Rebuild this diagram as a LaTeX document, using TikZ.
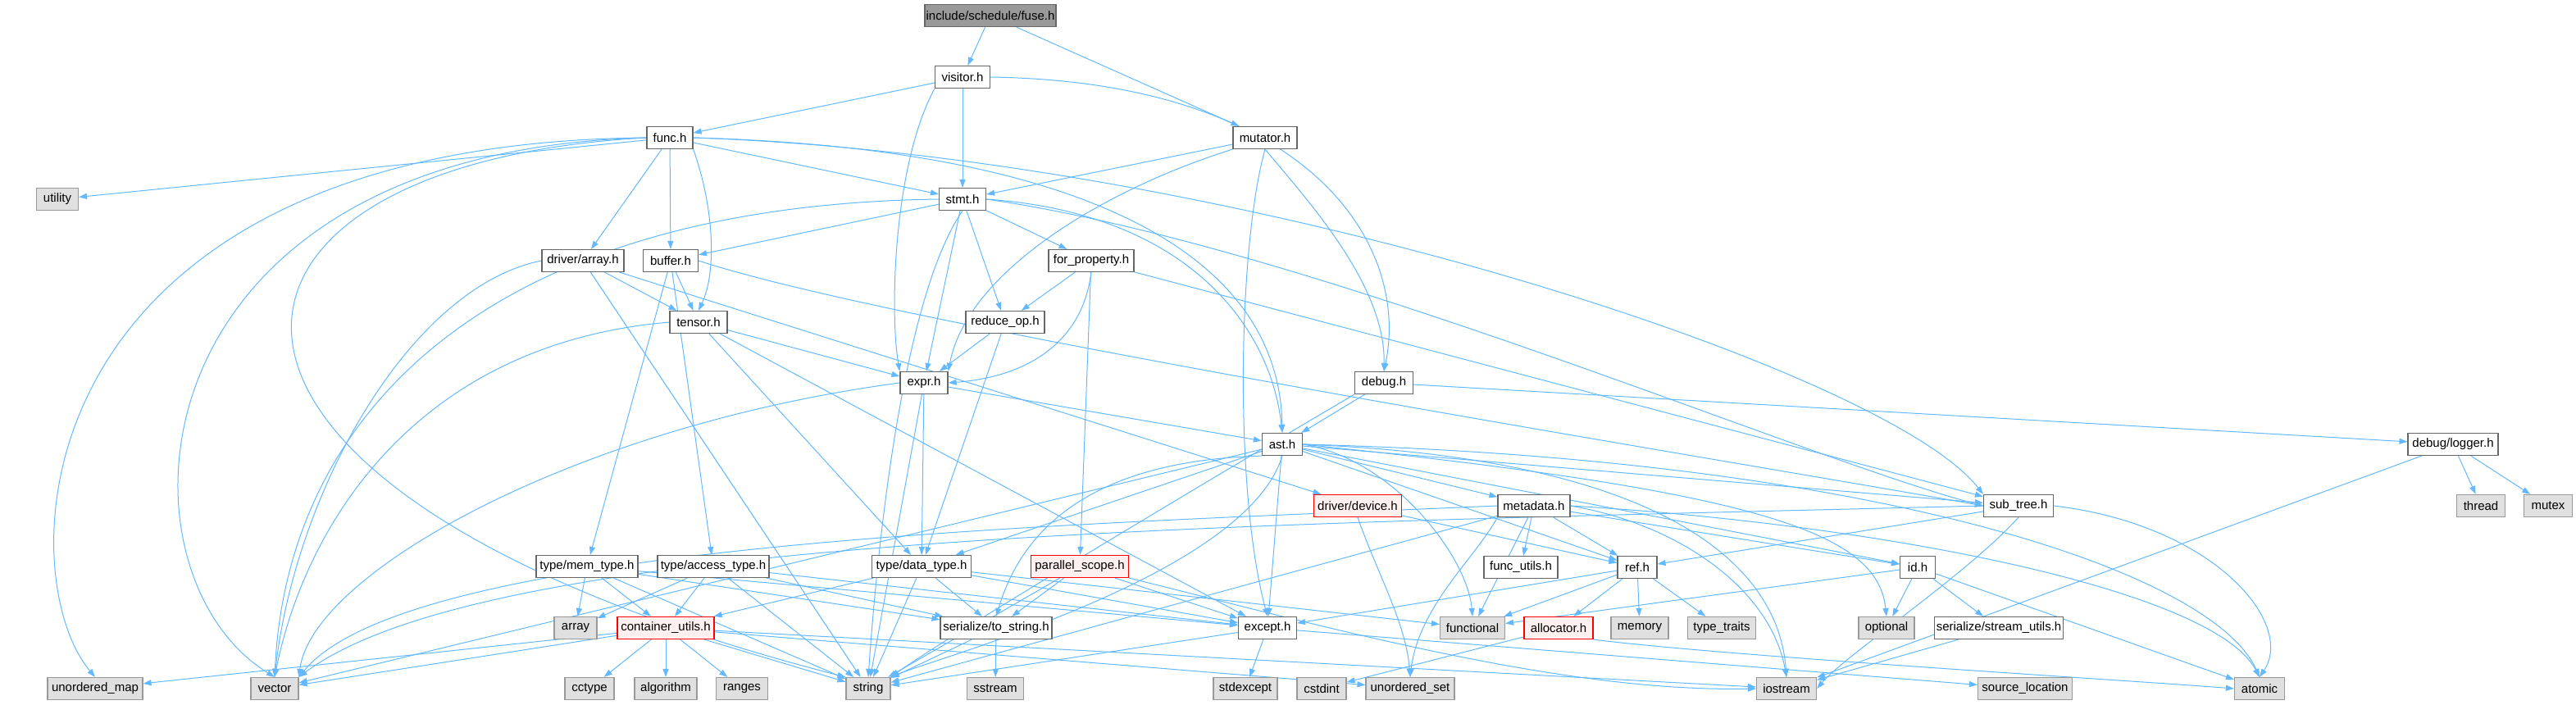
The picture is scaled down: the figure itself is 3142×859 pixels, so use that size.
\documentclass[tikz,border=0pt]{standalone}
\usepackage{fontspec}
\setmainfont{Liberation Sans}
\usepackage{tikz}
\usepackage{xcolor}
\usetikzlibrary{arrows.meta,backgrounds}

\definecolor{edgeblue}{HTML}{63B8FF}
\definecolor{boxgray}{HTML}{666666}
\definecolor{sysgray}{HTML}{999999}
\definecolor{sysfill}{HTML}{E0E0E0}
\definecolor{rootfill}{HTML}{999999}
\definecolor{badfill}{HTML}{FFF0F0}

\begin{document}
\begin{tikzpicture}[x=0.5pt, y=-0.5pt,
    >={Triangle[length=5pt,width=3.5pt]},
    hdr/.style={draw=boxgray, fill=white, minimum height=13.5pt, inner sep=0pt,
                line width=0.6pt, font=\fontsize{7.5}{8}\selectfont},
    sys/.style={hdr, draw=sysgray, fill=sysfill},
    root/.style={hdr, fill=rootfill},
    bad/.style={hdr, draw=red, fill=badfill},
    dep/.style={->, draw=edgeblue, line width=0.5pt}]
  \useasboundingbox (0,0) rectangle (3142,859);

  % --- headers of the project ------------------------------------------
  \node[root, minimum width=80pt]   (fuse)     at (1208,19)  {include/schedule/fuse.h};
  \node[hdr, minimum width=33.5pt]  (visitor)  at (1174,94)  {visitor.h};
  \node[hdr, minimum width=28pt]    (func)     at (817,168)  {func.h};
  \node[hdr, minimum width=39pt]    (mutator)  at (1543,168) {mutator.h};
  \node[hdr, minimum width=28.5pt]  (stmt)     at (1174,243) {stmt.h};
  \node[hdr, minimum width=50pt]    (darray)   at (711,318)  {driver/array.h};
  \node[hdr, minimum width=33.5pt]  (buffer)   at (818,318)  {buffer.h};
  \node[hdr, minimum width=52pt]    (forprop)  at (1331,318) {for\_property.h};
  \node[hdr, minimum width=35pt]    (tensor)   at (852,393)  {tensor.h};
  \node[hdr, minimum width=48pt]    (reduceop) at (1226,393) {reduce\_op.h};
  \node[hdr, minimum width=29pt]    (expr)     at (1127,467) {expr.h};
  \node[hdr, minimum width=35.5pt]  (debug)    at (1688,467) {debug.h};
  \node[hdr, minimum width=24.5pt]  (ast)      at (1564,542) {ast.h};
  \node[hdr, minimum width=55pt]    (logger)   at (2992,542) {debug/logger.h};
  \node[bad, minimum width=53.5pt]  (device)   at (1656,617) {driver/device.h};
  \node[hdr, minimum width=44pt]    (metadata) at (1871,617) {metadata.h};
  \node[hdr, minimum width=42.5pt]  (subtree)  at (2462,617) {sub\_tree.h};
  \node[hdr, minimum width=62pt]    (memtype)  at (716,691)  {type/mem\_type.h};
  \node[hdr, minimum width=68pt]    (acctype)  at (870,691)  {type/access\_type.h};
  \node[hdr, minimum width=60.5pt]  (datatype) at (1124,691) {type/data\_type.h};
  \node[bad, minimum width=59.5pt]  (parscope) at (1317,691) {parallel\_scope.h};
  \node[hdr, minimum width=45pt]    (funcutil) at (1855,692) {func\_utils.h};
  \node[hdr, minimum width=24pt]    (ref)      at (1997,692) {ref.h};
  \node[hdr, minimum width=21.5pt]  (id)       at (2339,692) {id.h};
  \node[bad, minimum width=59pt]    (contutil) at (812,766)  {container\_utils.h};
  \node[hdr, minimum width=68pt]    (tostring) at (1215,766) {serialize/to\_string.h};
  \node[hdr, minimum width=35.5pt]  (except)   at (1546,766) {except.h};
  \node[bad, minimum width=42pt]    (alloc)    at (1901,766) {allocator.h};
  \node[hdr, minimum width=78.5pt]  (strmutil) at (2438,766) {serialize/stream\_utils.h};

  % --- system headers --------------------------------------------------
  \node[sys, minimum width=25.5pt]  (utility)  at (70,243)   {utility};
  \node[sys, minimum width=29.5pt]  (thread)   at (3026,617) {thread};
  \node[sys, minimum width=29.5pt]  (mutex)    at (3108,617) {mutex};
  \node[sys, minimum width=26pt]    (array)    at (702,766)  {array};
  \node[sys, minimum width=39.5pt]  (function) at (1796,766) {functional};
  \node[sys, minimum width=35pt]    (memory)   at (2000,766) {memory};
  \node[sys, minimum width=41.5pt]  (typetrt)  at (2100,766) {type\_traits};
  \node[sys, minimum width=34pt]    (optional) at (2301,766) {optional};
  \node[sys, minimum width=58pt]    (umap)     at (116,840)  {unordered\_map};
  \node[sys, minimum width=29pt]    (vector)   at (335,840)  {vector};
  \node[sys, minimum width=30pt]    (cctype)   at (719,840)  {cctype};
  \node[sys, minimum width=38pt]    (algo)     at (812,840)  {algorithm};
  \node[sys, minimum width=31.5pt]  (ranges)   at (905,840)  {ranges};
  \node[sys, minimum width=27pt]    (string)   at (1059,840) {string};
  \node[sys, minimum width=34.5pt]  (sstream)  at (1214,840) {sstream};
  \node[sys, minimum width=39pt]    (stdexc)   at (1519,840) {stdexcept};
  \node[sys, minimum width=30pt]    (cstdint)  at (1612,840) {cstdint};
  \node[sys, minimum width=54pt]    (uset)     at (1720,840) {unordered\_set};
  \node[sys, minimum width=36.5pt]  (iostream) at (2179,840) {iostream};
  \node[sys, minimum width=57.5pt]  (srcloc)   at (2470,840) {source\_location};
  \node[sys, minimum width=30.5pt]  (atomic)   at (2756,840) {atomic};

  % --- include edges ---------------------------------------------------
  \begin{scope}[on background layer]
  \foreach \a/\b in {fuse/visitor, fuse/mutator,
      visitor/func, visitor/stmt,
      mutator/stmt,
      func/utility, func/darray, func/buffer, func/stmt,
      stmt/buffer, stmt/expr, stmt/forprop, stmt/reduceop,
      darray/tensor, darray/device, darray/string,
      buffer/tensor, buffer/memtype, buffer/acctype,
      tensor/expr, tensor/datatype, tensor/except,
      forprop/reduceop, forprop/parscope, forprop/subtree,
      reduceop/expr, reduceop/datatype,
      expr/ast, expr/datatype, expr/string,
      debug/ast, debug/logger,
      ast/datatype, ast/vector, ast/metadata,
      ast/ref, ast/id, ast/subtree, ast/except,
      logger/thread, logger/mutex, logger/iostream,
      metadata/funcutil, metadata/ref, metadata/id, metadata/function,
      metadata/string,
      device/ref,
      subtree/ref,
      id/function, id/optional, id/strmutil, id/atomic,
      ref/except, ref/function, ref/alloc, ref/memory, ref/typetrt,
      alloc/cstdint,
      except/string, except/stdexc, except/srcloc,
      tostring/sstream, tostring/string,
      datatype/tostring, datatype/except, datatype/function, datatype/contutil,
      datatype/string,
      parscope/tostring, parscope/except, parscope/string,
      memtype/array, memtype/contutil, memtype/tostring, memtype/except,
      memtype/string,
      acctype/array, acctype/contutil, acctype/tostring, acctype/except,
      acctype/string,
      contutil/umap, contutil/vector, contutil/cctype, contutil/algo,
      contutil/ranges, contutil/string, contutil/iostream, contutil/uset,
      strmutil/iostream}
    \draw[dep] (\a) -- (\b);

  % long edges bent round the others
  \draw[dep] (func.west) .. controls (20,175) and (10,700) .. (umap.north);
  \draw[dep] (func.west) .. controls (150,185) and (130,700) .. (vector.north);
  \draw[dep] (func.west) .. controls (200,200) and (150,600) .. (string.north west);
  \draw[dep] (stmt.west) .. controls (600,250) and (350,500) .. (vector.north);
  \draw[dep] (darray.west) .. controls (500,350) and (360,600) .. (vector.north);
  \draw[dep] (tensor.west) .. controls (500,420) and (370,650) .. (vector.north);
  \draw[dep] (expr.west) .. controls (700,520) and (380,700) .. (vector.north east);
  \draw[dep] (subtree.west) .. controls (1500,640) and (600,650) .. (vector.north east);
  \draw[dep] (metadata.west) .. controls (1300,640) and (500,660) .. (vector.north east);
  \draw[dep] (func.east) .. controls (1300,180) and (1560,300) .. (ast.north);
  \draw[dep] (func.east) .. controls (1500,190) and (2300,450) .. (subtree.north west);
  \draw[dep] (func.south east) .. controls (870,250) and (875,330) .. (tensor.north);
  \draw[dep] (stmt.east) .. controls (1450,260) and (1550,400) .. (ast.north);
  \draw[dep] (stmt.east) .. controls (1600,300) and (2200,560) .. (subtree.west);
  \draw[dep] (stmt.south) .. controls (1110,350) and (1075,600) .. (string.north);
  \draw[dep] (visitor.east) .. controls (1600,100) and (1720,300) .. (debug.north);
  \draw[dep] (visitor.south west) .. controls (1090,200) and (1085,380) .. (expr.north west);
  \draw[dep] (mutator.south) .. controls (1600,250) and (1690,350) .. (debug.north);
  \draw[dep] (mutator.south) .. controls (1510,300) and (1505,600) .. (except.north);
  \draw[dep] (mutator.south west) .. controls (1350,230) and (1180,330) .. (expr.north east);
  \draw[dep] (forprop.south) .. controls (1320,420) and (1250,460) .. (expr.east);
  \draw[dep] (buffer.east) .. controls (1100,400) and (2100,560) .. (subtree.west);
  \draw[dep] (debug.south west) .. controls (1450,600) and (1150,780) .. (string.north east);
  \draw[dep] (ast.south west) .. controls (1400,560) and (1260,600) .. (tostring.north);
  \draw[dep] (ast.south) .. controls (1520,700) and (1150,800) .. (string.north east);
  \draw[dep] (ast.east) .. controls (2050,560) and (2170,700) .. (iostream.north);
  \draw[dep] (ast.east) .. controls (1700,560) and (1790,680) .. (function.north);
  \draw[dep] (ast.east) .. controls (2300,560) and (2700,700) .. (atomic.north);
  \draw[dep] (ast.east) .. controls (2150,600) and (2290,650) .. (optional.north);
  \draw[dep] (metadata.south west) .. controls (1800,680) and (1730,740) .. (uset.north);
  \draw[dep] (metadata.east) .. controls (2050,640) and (2160,720) .. (iostream.north);
  \draw[dep] (metadata.east) .. controls (2300,640) and (2700,720) .. (atomic.north);
  \draw[dep] (device.south) .. controls (1680,700) and (1715,760) .. (uset.north);
  \draw[dep] (subtree.south) .. controls (2400,700) and (2250,800) .. (iostream.east);
  \draw[dep] (subtree.east) .. controls (2700,640) and (2800,760) .. (atomic.north);
  \draw[dep] (alloc.south east) .. controls (2100,800) and (2600,830) .. (atomic.west);
  \draw[dep] (parscope.south east) .. controls (1600,760) and (1900,845) .. (iostream.west);
  \end{scope}
\end{tikzpicture}
\end{document}
